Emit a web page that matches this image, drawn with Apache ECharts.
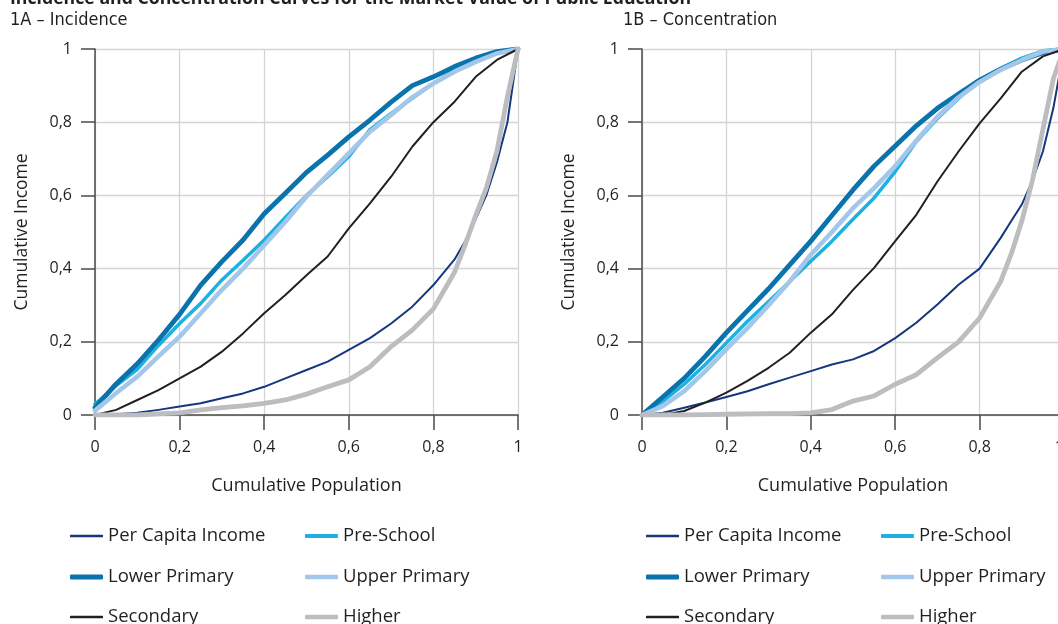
<!DOCTYPE html>
<html><head><meta charset="utf-8">
<script src="https://cdn.jsdelivr.net/npm/echarts@6/dist/echarts.min.js"></script>
<style>html,body{margin:0;padding:0;background:#fff}#c{width:1058px;height:624px}</style>
</head><body><div id="c"></div>
<script>
// ---- data ----
const pop21 = [0,0.05,0.1,0.15,0.2,0.25,0.3,0.35,0.4,0.45,0.5,0.55,0.6,0.65,0.7,0.75,0.8,0.85,0.9,0.95,1];
const popFine = [0,0.05,0.1,0.15,0.2,0.25,0.3,0.35,0.4,0.45,0.5,0.55,0.6,0.65,0.7,0.75,0.8,0.85,0.875,0.9,0.925,0.95,0.975,1];
const xTicks = ['0','0,2','0,4','0,6','0,8','1'];
const seriesNames = ['Per Capita Income','Pre-School','Lower Primary','Upper Primary','Secondary','Higher'];

// 1A Incidence
const incIncome = [0,0.002,0.006,0.014,0.023,0.032,0.046,0.059,0.077,0.10,0.123,0.146,0.178,0.21,0.25,0.296,0.355,0.425,0.475,0.535,0.60,0.69,0.80,1];
const incPreSchool = [0.03,0.08,0.125,0.19,0.25,0.305,0.369,0.423,0.478,0.54,0.60,0.651,0.706,0.78,0.824,0.865,0.906,0.943,0.97,0.99,1];
const incLowerPrimary = [0.02,0.085,0.14,0.205,0.275,0.355,0.419,0.478,0.55,0.606,0.663,0.71,0.76,0.806,0.855,0.90,0.924,0.952,0.975,0.993,1];
const incUpperPrimary = [0.012,0.06,0.105,0.16,0.214,0.278,0.342,0.40,0.464,0.528,0.597,0.656,0.715,0.774,0.82,0.868,0.906,0.938,0.965,0.988,1];
const incSecondary = [0,0.014,0.041,0.068,0.10,0.132,0.173,0.223,0.278,0.328,0.382,0.433,0.51,0.578,0.651,0.733,0.80,0.856,0.924,0.97,1];
const incHigher = [0,0,0,0.003,0.006,0.014,0.02,0.025,0.032,0.041,0.057,0.077,0.096,0.132,0.187,0.232,0.29,0.39,0.465,0.545,0.62,0.72,0.87,1];

// 1B Concentration
const conIncome = [0,0.006,0.02,0.034,0.049,0.065,0.084,0.102,0.12,0.138,0.152,0.175,0.21,0.252,0.302,0.356,0.40,0.484,0.53,0.575,0.64,0.72,0.84,1];
const conPreSchool = [0,0.038,0.084,0.138,0.197,0.256,0.31,0.365,0.42,0.475,0.535,0.593,0.665,0.747,0.81,0.865,0.915,0.947,0.975,0.995,1];
const conLowerPrimary = [0,0.05,0.10,0.16,0.225,0.285,0.345,0.41,0.475,0.545,0.615,0.68,0.735,0.79,0.838,0.877,0.915,0.945,0.97,0.99,1];
const conUpperPrimary = [0,0.025,0.065,0.12,0.18,0.238,0.30,0.365,0.438,0.50,0.565,0.62,0.68,0.75,0.815,0.868,0.91,0.943,0.97,0.993,1];
const conSecondary = [0,0,0.011,0.034,0.061,0.093,0.129,0.17,0.225,0.275,0.342,0.402,0.475,0.547,0.638,0.72,0.797,0.865,0.938,0.98,1];
const conHigher = [0,0,0,0.001,0.002,0.003,0.004,0.004,0.006,0.015,0.038,0.052,0.084,0.11,0.156,0.20,0.265,0.365,0.44,0.53,0.64,0.78,0.92,1];

// ---- styling ----
const FONT = "'Open Sans','Noto Sans',sans-serif";
const TXT = '#231f20';
const styles = {
  'Per Capita Income': {color:'#14377d', width:2, legendH:2.5},
  'Pre-School': {color:'#1cb1e1', width:3.5, legendH:4},
  'Lower Primary': {color:'#0a73ab', width:4.8, legendH:5},
  'Upper Primary': {color:'#a3c7e9', width:4.6, legendH:4.5},
  'Secondary': {color:'#231f20', width:2, legendH:2.5},
  'Higher': {color:'#bcbdc0', width:4.8, legendH:4.5}
};
const pair = (xs, ys) => xs.map((x,i)=>[x, ys[i]]);
const leftData = {
  'Per Capita Income': pair(popFine, incIncome),
  'Pre-School': pair(pop21, incPreSchool),
  'Lower Primary': pair(pop21, incLowerPrimary),
  'Upper Primary': pair(pop21, incUpperPrimary),
  'Secondary': pair(pop21, incSecondary),
  'Higher': pair(popFine, incHigher)
};
const rightData = {
  'Per Capita Income': pair(popFine, conIncome),
  'Pre-School': pair(pop21, conPreSchool),
  'Lower Primary': pair(pop21, conLowerPrimary),
  'Upper Primary': pair(pop21, conUpperPrimary),
  'Secondary': pair(pop21, conSecondary),
  'Higher': pair(popFine, conHigher)
};
const fmt = v => { const k = Math.round(v*5); return xTicks[k] !== undefined ? xTicks[k] : ''; };

function xAx(gi){
  return {gridIndex:gi, type:'value', min:0, max:1, interval:0.2,
    name:'Cumulative Population', nameLocation:'middle', nameGap:62,
    nameTextStyle:{fontFamily:FONT, fontSize:18, color:TXT},
    axisLine:{lineStyle:{color:'#4a4a4a', width:1.5}},
    axisTick:{length:15, lineStyle:{color:'#4a4a4a', width:1.5}},
    axisLabel:{fontFamily:FONT, fontSize:16, color:TXT, margin:24, formatter:fmt, hideOverlap:false,
      showMaxLabel:true, alignMaxLabel: gi === 1 ? 'right' : 'center'},
    splitLine:{show:true, lineStyle:{color:'#d4d4d4', width:1.3}}};
}
function yAx(gi){
  return {gridIndex:gi, type:'value', min:0, max:1, interval:0.2,
    name:'Cumulative Income', nameLocation:'middle', nameGap:64,
    nameTextStyle:{fontFamily:FONT, fontSize:17.5, color:TXT},
    axisLine:{show:true, lineStyle:{color:'#4a4a4a', width:1.5}},
    axisTick:{show:true, length:14, lineStyle:{color:'#4a4a4a', width:1.5}},
    axisLabel:{fontFamily:FONT, fontSize:16, color:TXT, margin:23, formatter:fmt},
    splitLine:{show:true, lineStyle:{color:'#d4d4d4', width:1.3}}};
}
const series = [];
[leftData, rightData].forEach((d, gi) => {
  seriesNames.forEach(n => {
    series.push({name:n, type:'line', xAxisIndex:gi, yAxisIndex:gi, data:d[n],
      symbol:'none', showSymbol:false, smooth:false, silent:true, animation:false, clip:true,
      lineStyle:{color:styles[n].color, width:styles[n].width, cap:'round', join:'round'},
      itemStyle:{color:styles[n].color}});
  });
});
// one legend per item, placed in a 2-column x 3-row layout under each panel
const legendCols = [['Per Capita Income','Lower Primary','Secondary'],['Pre-School','Upper Primary','Higher']];
const rowCenters = [536, 577, 617];
const legends = [];
[[70, 305], [646, 881]].forEach(lefts => {
  legendCols.forEach((col, c) => {
    col.forEach((n, r) => {
      legends.push({orient:'horizontal', left:lefts[c], top:rowCenters[r]-11, padding:0,
        itemWidth:33, itemHeight:styles[n].legendH, selectedMode:false, icon:'roundRect',
        textStyle:{fontFamily:FONT, fontSize:18.5, color:TXT, lineHeight:22},
        data:[{name:n, itemStyle:{color:styles[n].color}}]});
    });
  });
});
const chart = echarts.init(document.getElementById('c'), null, {renderer:'canvas'});
chart.setOption({
  animation:false,
  backgroundColor:'#fff',
  grid:[{left:95, top:49, width:423, height:366, outerBoundsMode:'none', containLabel:false},
        {left:642, top:49, width:422, height:366, outerBoundsMode:'none', containLabel:false}],
  xAxis:[xAx(0), xAx(1)],
  yAxis:[yAx(0), yAx(1)],
  legend:legends,
  graphic:[
    {type:'text', x:10, y:8, style:{text:'Incidence and Concentration Curves for the Market Value of Public Education', font:"bold 17.7px 'Open Sans','Noto Sans',sans-serif", fill:TXT, verticalAlign:'bottom'}},
    {type:'text', x:10, y:20, style:{text:'1A – Incidence', font:"18px 'Liberation Sans Narrow','DejaVu Sans Condensed','Noto Sans',sans-serif", fill:TXT, verticalAlign:'middle'}},
    {type:'text', x:623, y:20, style:{text:'1B – Concentration', font:"18px 'Liberation Sans Narrow','DejaVu Sans Condensed','Noto Sans',sans-serif", fill:TXT, verticalAlign:'middle'}}
  ],
  series:series
});
</script></body></html>
